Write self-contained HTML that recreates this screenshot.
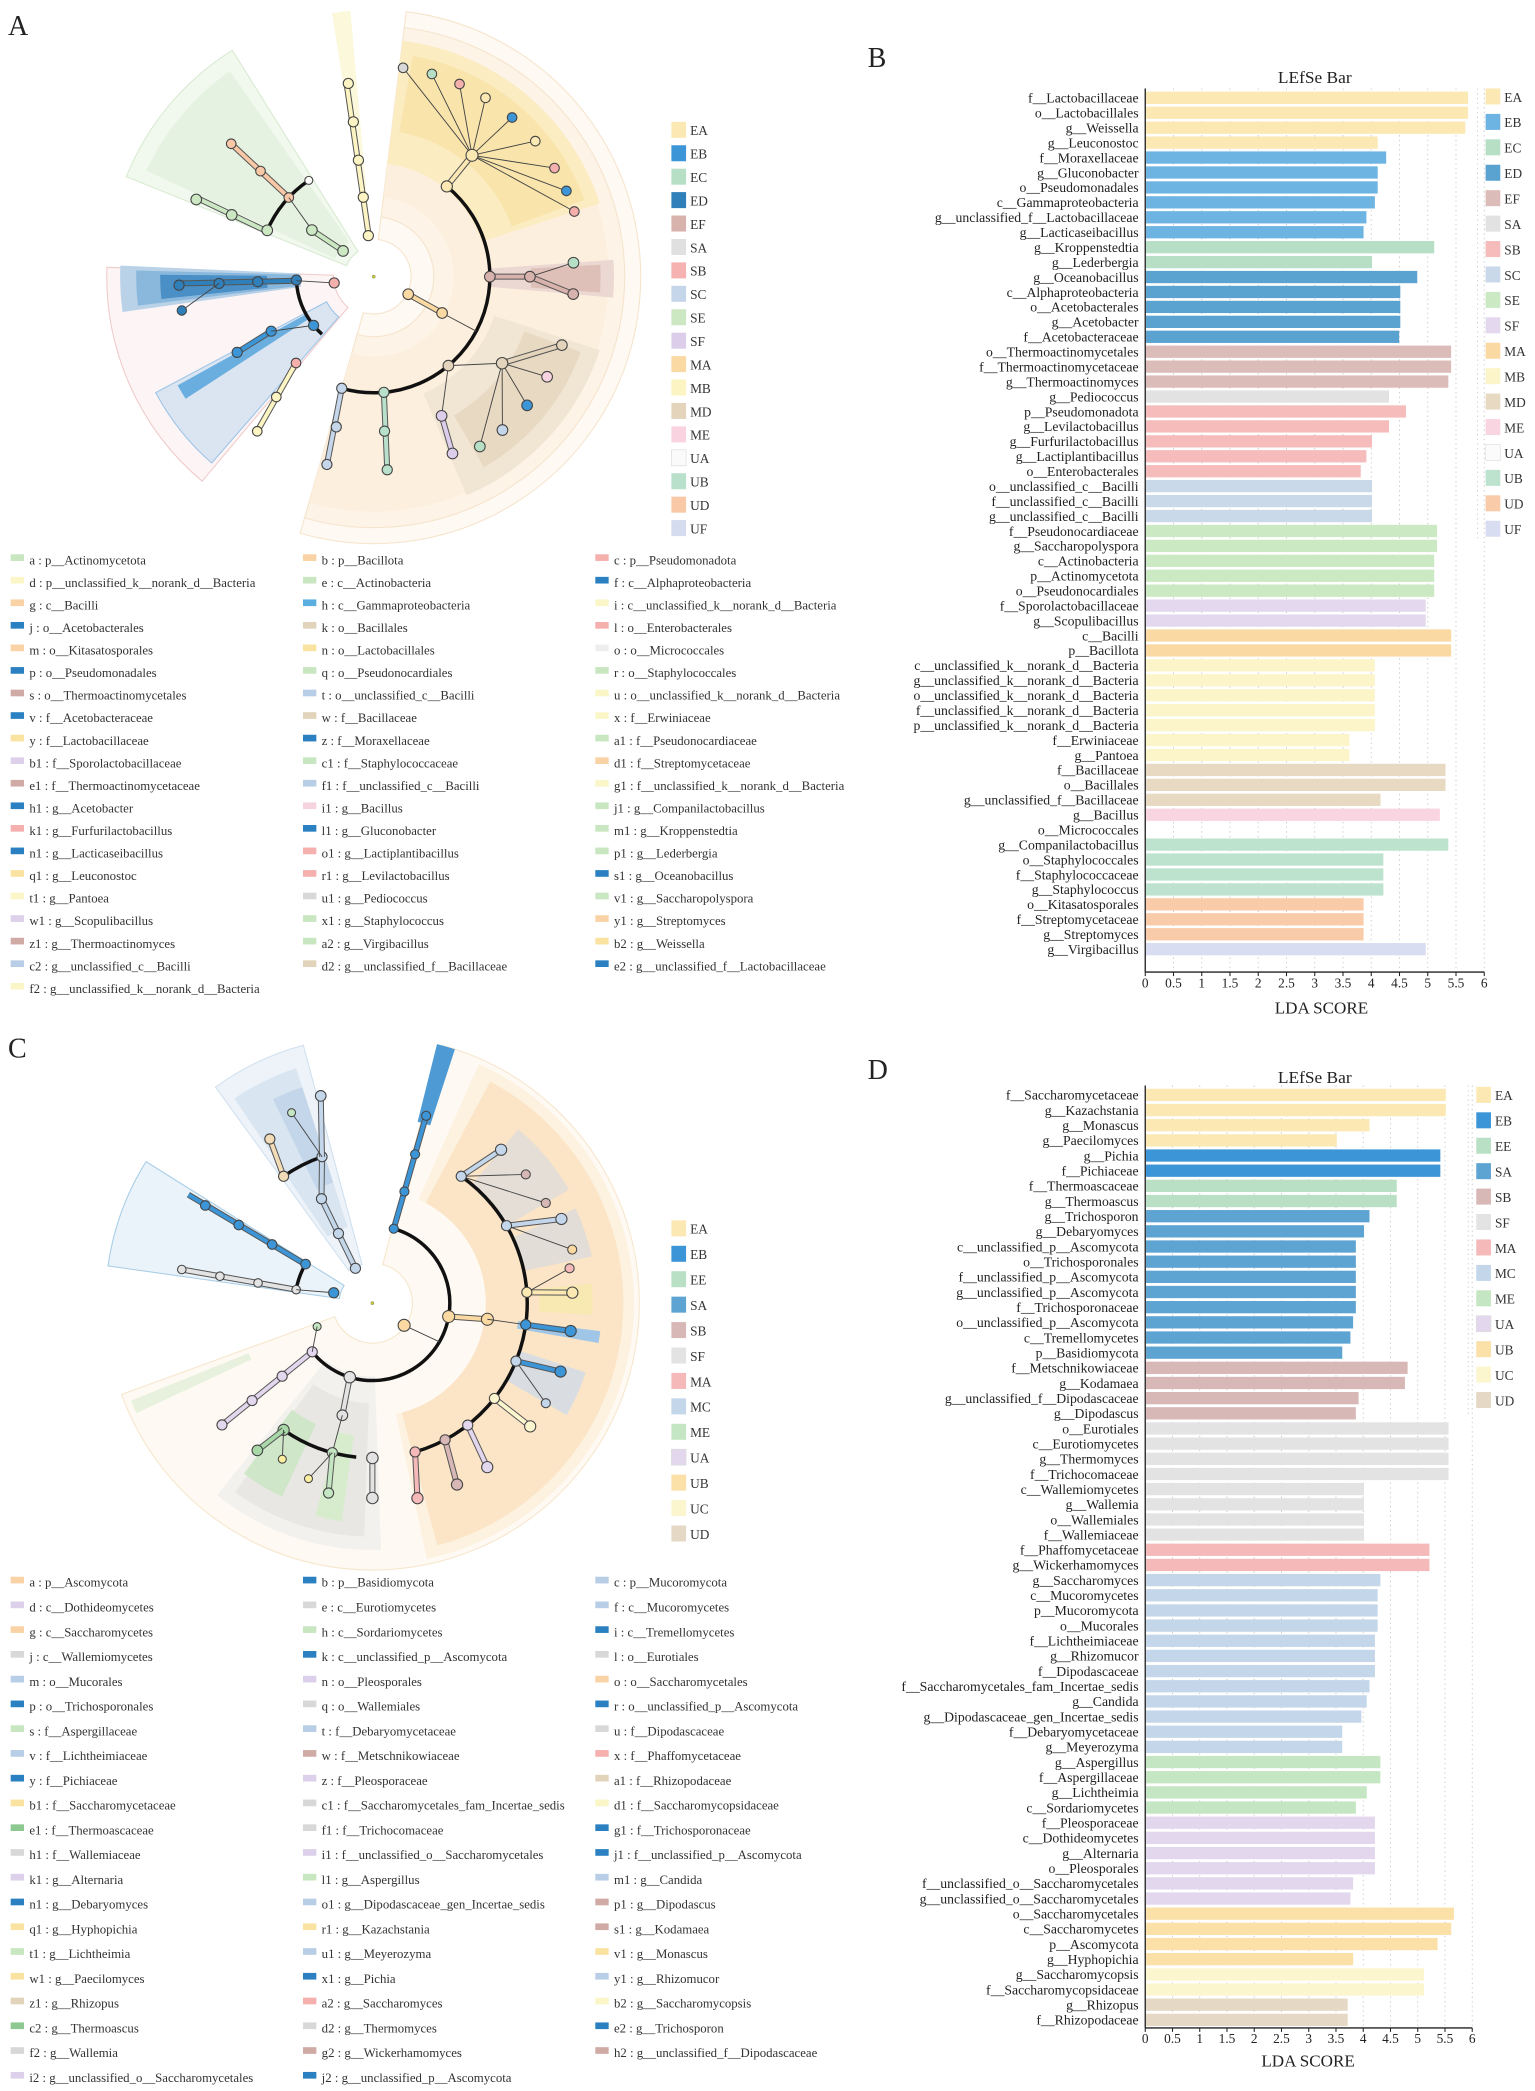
<!DOCTYPE html>
<html><head><meta charset="utf-8"><style>
html,body{margin:0;padding:0;background:#fff}
svg{display:block}
text{font-family:"Liberation Serif",serif}
</style></head><body>
<svg id="S" width="1535" height="2091" viewBox="0 0 1150 1566" xmlns="http://www.w3.org/2000/svg">
<rect width="1150" height="1566" fill="#fff"/>
<g id="cladA"></g><g id="cladC"></g>
<text x="6" y="26" font-size="21" fill="#222">A</text>
<text x="650" y="50" font-size="21" fill="#222">B</text>
<text x="6" y="792" font-size="21" fill="#222">C</text>
<text x="650" y="808" font-size="21" fill="#222">D</text>

<g id="cla" font-size="10" fill="#333"><text>EA</text><text>EB</text><text>EC</text><text>ED</text><text>EF</text><text>SA</text><text>SB</text><text>SC</text><text>SE</text><text>SF</text><text>MA</text><text>MB</text><text>MD</text><text>ME</text><text>UA</text><text>UB</text><text>UD</text><text>UF</text></g>
<g id="clc" font-size="10" fill="#333"><text>EA</text><text>EB</text><text>EE</text><text>SA</text><text>SB</text><text>SF</text><text>MA</text><text>MC</text><text>ME</text><text>UA</text><text>UB</text><text>UC</text><text>UD</text></g>

<g id="legA" font-size="9.6" fill="#333">
<text>a : p__Actinomycetota</text><text>b : p__Bacillota</text><text>c : p__Pseudomonadota</text>
<text>d : p__unclassified_k__norank_d__Bacteria</text><text>e : c__Actinobacteria</text><text>f : c__Alphaproteobacteria</text>
<text>g : c__Bacilli</text><text>h : c__Gammaproteobacteria</text><text>i : c__unclassified_k__norank_d__Bacteria</text>
<text>j : o__Acetobacterales</text><text>k : o__Bacillales</text><text>l : o__Enterobacterales</text>
<text>m : o__Kitasatosporales</text><text>n : o__Lactobacillales</text><text>o : o__Micrococcales</text>
<text>p : o__Pseudomonadales</text><text>q : o__Pseudonocardiales</text><text>r : o__Staphylococcales</text>
<text>s : o__Thermoactinomycetales</text><text>t : o__unclassified_c__Bacilli</text><text>u : o__unclassified_k__norank_d__Bacteria</text>
<text>v : f__Acetobacteraceae</text><text>w : f__Bacillaceae</text><text>x : f__Erwiniaceae</text>
<text>y : f__Lactobacillaceae</text><text>z : f__Moraxellaceae</text><text>a1 : f__Pseudonocardiaceae</text>
<text>b1 : f__Sporolactobacillaceae</text><text>c1 : f__Staphylococcaceae</text><text>d1 : f__Streptomycetaceae</text>
<text>e1 : f__Thermoactinomycetaceae</text><text>f1 : f__unclassified_c__Bacilli</text><text>g1 : f__unclassified_k__norank_d__Bacteria</text>
<text>h1 : g__Acetobacter</text><text>i1 : g__Bacillus</text><text>j1 : g__Companilactobacillus</text>
<text>k1 : g__Furfurilactobacillus</text><text>l1 : g__Gluconobacter</text><text>m1 : g__Kroppenstedtia</text>
<text>n1 : g__Lacticaseibacillus</text><text>o1 : g__Lactiplantibacillus</text><text>p1 : g__Lederbergia</text>
<text>q1 : g__Leuconostoc</text><text>r1 : g__Levilactobacillus</text><text>s1 : g__Oceanobacillus</text>
<text>t1 : g__Pantoea</text><text>u1 : g__Pediococcus</text><text>v1 : g__Saccharopolyspora</text>
<text>w1 : g__Scopulibacillus</text><text>x1 : g__Staphylococcus</text><text>y1 : g__Streptomyces</text>
<text>z1 : g__Thermoactinomyces</text><text>a2 : g__Virgibacillus</text><text>b2 : g__Weissella</text>
<text>c2 : g__unclassified_c__Bacilli</text><text>d2 : g__unclassified_f__Bacillaceae</text><text>e2 : g__unclassified_f__Lactobacillaceae</text>
<text>f2 : g__unclassified_k__norank_d__Bacteria</text>
</g>

<g id="legC" font-size="9.6" fill="#333">
<text>a : p__Ascomycota</text><text>b : p__Basidiomycota</text><text>c : p__Mucoromycota</text>
<text>d : c__Dothideomycetes</text><text>e : c__Eurotiomycetes</text><text>f : c__Mucoromycetes</text>
<text>g : c__Saccharomycetes</text><text>h : c__Sordariomycetes</text><text>i : c__Tremellomycetes</text>
<text>j : c__Wallemiomycetes</text><text>k : c__unclassified_p__Ascomycota</text><text>l : o__Eurotiales</text>
<text>m : o__Mucorales</text><text>n : o__Pleosporales</text><text>o : o__Saccharomycetales</text>
<text>p : o__Trichosporonales</text><text>q : o__Wallemiales</text><text>r : o__unclassified_p__Ascomycota</text>
<text>s : f__Aspergillaceae</text><text>t : f__Debaryomycetaceae</text><text>u : f__Dipodascaceae</text>
<text>v : f__Lichtheimiaceae</text><text>w : f__Metschnikowiaceae</text><text>x : f__Phaffomycetaceae</text>
<text>y : f__Pichiaceae</text><text>z : f__Pleosporaceae</text><text>a1 : f__Rhizopodaceae</text>
<text>b1 : f__Saccharomycetaceae</text><text>c1 : f__Saccharomycetales_fam_Incertae_sedis</text><text>d1 : f__Saccharomycopsidaceae</text>
<text>e1 : f__Thermoascaceae</text><text>f1 : f__Trichocomaceae</text><text>g1 : f__Trichosporonaceae</text>
<text>h1 : f__Wallemiaceae</text><text>i1 : f__unclassified_o__Saccharomycetales</text><text>j1 : f__unclassified_p__Ascomycota</text>
<text>k1 : g__Alternaria</text><text>l1 : g__Aspergillus</text><text>m1 : g__Candida</text>
<text>n1 : g__Debaryomyces</text><text>o1 : g__Dipodascaceae_gen_Incertae_sedis</text><text>p1 : g__Dipodascus</text>
<text>q1 : g__Hyphopichia</text><text>r1 : g__Kazachstania</text><text>s1 : g__Kodamaea</text>
<text>t1 : g__Lichtheimia</text><text>u1 : g__Meyerozyma</text><text>v1 : g__Monascus</text>
<text>w1 : g__Paecilomyces</text><text>x1 : g__Pichia</text><text>y1 : g__Rhizomucor</text>
<text>z1 : g__Rhizopus</text><text>a2 : g__Saccharomyces</text><text>b2 : g__Saccharomycopsis</text>
<text>c2 : g__Thermoascus</text><text>d2 : g__Thermomyces</text><text>e2 : g__Trichosporon</text>
<text>f2 : g__Wallemia</text><text>g2 : g__Wickerhamomyces</text><text>h2 : g__unclassified_f__Dipodascaceae</text>
<text>i2 : g__unclassified_o__Saccharomycetales</text><text>j2 : g__unclassified_p__Ascomycota</text>
</g>

<text x="985" y="62" font-size="13" text-anchor="middle" fill="#222">LEfSe Bar</text>
<g id="barsB"></g>
<g id="labB" font-size="10.3" fill="#222" text-anchor="end">
<text>f__Lactobacillaceae</text><text>o__Lactobacillales</text><text>g__Weissella</text><text>g__Leuconostoc</text>
<text>f__Moraxellaceae</text><text>g__Gluconobacter</text><text>o__Pseudomonadales</text><text>c__Gammaproteobacteria</text>
<text>g__unclassified_f__Lactobacillaceae</text><text>g__Lacticaseibacillus</text><text>g__Kroppenstedtia</text><text>g__Lederbergia</text>
<text>g__Oceanobacillus</text><text>c__Alphaproteobacteria</text><text>o__Acetobacterales</text><text>g__Acetobacter</text>
<text>f__Acetobacteraceae</text><text>o__Thermoactinomycetales</text><text>f__Thermoactinomycetaceae</text><text>g__Thermoactinomyces</text>
<text>g__Pediococcus</text><text>p__Pseudomonadota</text><text>g__Levilactobacillus</text><text>g__Furfurilactobacillus</text>
<text>g__Lactiplantibacillus</text><text>o__Enterobacterales</text><text>o__unclassified_c__Bacilli</text><text>f__unclassified_c__Bacilli</text>
<text>g__unclassified_c__Bacilli</text><text>f__Pseudonocardiaceae</text><text>g__Saccharopolyspora</text><text>c__Actinobacteria</text>
<text>p__Actinomycetota</text><text>o__Pseudonocardiales</text><text>f__Sporolactobacillaceae</text><text>g__Scopulibacillus</text>
<text>c__Bacilli</text><text>p__Bacillota</text><text>c__unclassified_k__norank_d__Bacteria</text><text>g__unclassified_k__norank_d__Bacteria</text>
<text>o__unclassified_k__norank_d__Bacteria</text><text>f__unclassified_k__norank_d__Bacteria</text><text>p__unclassified_k__norank_d__Bacteria</text><text>f__Erwiniaceae</text>
<text>g__Pantoea</text><text>f__Bacillaceae</text><text>o__Bacillales</text><text>g__unclassified_f__Bacillaceae</text>
<text>g__Bacillus</text><text>o__Micrococcales</text><text>g__Companilactobacillus</text><text>o__Staphylococcales</text>
<text>f__Staphylococcaceae</text><text>g__Staphylococcus</text><text>o__Kitasatosporales</text><text>f__Streptomycetaceae</text>
<text>g__Streptomyces</text><text>g__Virgibacillus</text>
</g>
<g id="tickB" font-size="10" fill="#222" text-anchor="middle"></g>
<text x="990" y="759" font-size="12.8" text-anchor="middle" fill="#222">LDA SCORE</text>
<g id="legB" font-size="10" fill="#333"><text>EA</text><text>EB</text><text>EC</text><text>ED</text><text>EF</text><text>SA</text><text>SB</text><text>SC</text><text>SE</text><text>SF</text><text>MA</text><text>MB</text><text>MD</text><text>ME</text><text>UA</text><text>UB</text><text>UD</text><text>UF</text></g>

<text x="985" y="811" font-size="13" text-anchor="middle" fill="#222">LEfSe Bar</text>
<g id="barsD"></g>
<g id="labD" font-size="10.3" fill="#222" text-anchor="end">
<text>f__Saccharomycetaceae</text><text>g__Kazachstania</text><text>g__Monascus</text><text>g__Paecilomyces</text>
<text>g__Pichia</text><text>f__Pichiaceae</text><text>f__Thermoascaceae</text><text>g__Thermoascus</text>
<text>g__Trichosporon</text><text>g__Debaryomyces</text><text>c__unclassified_p__Ascomycota</text><text>o__Trichosporonales</text>
<text>f__unclassified_p__Ascomycota</text><text>g__unclassified_p__Ascomycota</text><text>f__Trichosporonaceae</text><text>o__unclassified_p__Ascomycota</text>
<text>c__Tremellomycetes</text><text>p__Basidiomycota</text><text>f__Metschnikowiaceae</text><text>g__Kodamaea</text>
<text>g__unclassified_f__Dipodascaceae</text><text>g__Dipodascus</text><text>o__Eurotiales</text><text>c__Eurotiomycetes</text>
<text>g__Thermomyces</text><text>f__Trichocomaceae</text><text>c__Wallemiomycetes</text><text>g__Wallemia</text>
<text>o__Wallemiales</text><text>f__Wallemiaceae</text><text>f__Phaffomycetaceae</text><text>g__Wickerhamomyces</text>
<text>g__Saccharomyces</text><text>c__Mucoromycetes</text><text>p__Mucoromycota</text><text>o__Mucorales</text>
<text>f__Lichtheimiaceae</text><text>g__Rhizomucor</text><text>f__Dipodascaceae</text><text>f__Saccharomycetales_fam_Incertae_sedis</text>
<text>g__Candida</text><text>g__Dipodascaceae_gen_Incertae_sedis</text><text>f__Debaryomycetaceae</text><text>g__Meyerozyma</text>
<text>g__Aspergillus</text><text>f__Aspergillaceae</text><text>g__Lichtheimia</text><text>c__Sordariomycetes</text>
<text>f__Pleosporaceae</text><text>c__Dothideomycetes</text><text>g__Alternaria</text><text>o__Pleosporales</text>
<text>f__unclassified_o__Saccharomycetales</text><text>g__unclassified_o__Saccharomycetales</text><text>o__Saccharomycetales</text><text>c__Saccharomycetes</text>
<text>p__Ascomycota</text><text>g__Hyphopichia</text><text>g__Saccharomycopsis</text><text>f__Saccharomycopsidaceae</text>
<text>g__Rhizopus</text><text>f__Rhizopodaceae</text>
</g>
<g id="tickD" font-size="10" fill="#222" text-anchor="middle"></g>
<text x="980" y="1548" font-size="12.8" text-anchor="middle" fill="#222">LDA SCORE</text>
<g id="legD" font-size="10" fill="#333"><text>EA</text><text>EB</text><text>EE</text><text>SA</text><text>SB</text><text>SF</text><text>MA</text><text>MC</text><text>ME</text><text>UA</text><text>UB</text><text>UC</text><text>UD</text></g>
</svg>
<script>
(function(){
var NS="http://www.w3.org/2000/svg";
function el(p,t,a){var e=document.createElementNS(NS,t);for(var k in a)e.setAttribute(k,a[k]);p.appendChild(e);return e;}
function $(i){return document.getElementById(i);}
var C={EA:"#fbe8b2",EB:"#6db4e3",EC:"#b6dfc6",ED:"#5aa2d0",EE:"#b9e0c5",EF:"#dcbcb8",SA:"#e2e2e2",SB:"#f5bcbb",SC:"#c9d9ea",SE:"#cbe9c3",SF:"#e4d8ee",MA:"#fbd9a2",MB:"#fcf5c9",MC:"#c4d8ec",MD:"#e7d9c2",ME:"#f9d5e2",UA:"#fbfbfb",UB:"#bde3cf",UC:"#fdf7cf",UD:"#f9cba9",UF:"#d9ddf1"};
var CD={EA:"#fbe8b2",EB:"#3c95d6",EE:"#b9e0c5",SA:"#5ea4d3",SB:"#d8b8b6",SF:"#e3e3e3",MA:"#f4b9b8",MC:"#c4d6ea",ME:"#c5e6c2",UA:"#e3d7ee",UB:"#fbe0a8",UC:"#fcf6cf",UD:"#e5d8c4"};
function bars(gid,lid,tid,y0,dy,x0,u,vals,cols,pal,ytop,ybot){
 var g=$(gid);
 for(var v=0.5;v<=6.01;v+=0.5){el(g,"line",{x1:x0+v*u,x2:x0+v*u,y1:ytop,y2:ybot,stroke:"#c8c8c8","stroke-width":0.7,"stroke-dasharray":"1,2.5"});}
 var L=$(lid).children;
 for(var i=0;i<vals.length;i++){var y=y0+i*dy;
  if(vals[i]>0)el(g,"rect",{x:x0+0.6,y:y-4.6,width:vals[i]*u,height:9.2,fill:pal[cols[i]]});
  L[i].setAttribute("x",x0-5);L[i].setAttribute("y",y+3.6);}
 el(g,"line",{x1:x0,x2:x0,y1:ytop,y2:ybot,stroke:"#222","stroke-width":1});
 el(g,"line",{x1:x0,x2:x0+6*u,y1:ybot,y2:ybot,stroke:"#222","stroke-width":1});
 var t=$(tid);
 for(var k=0;k<=12;k++){var x=x0+k*0.5*u;el(g,"line",{x1:x,x2:x,y1:ybot,y2:ybot+3,stroke:"#222","stroke-width":0.8});
  var tx=el(t,"text",{x:x,y:ybot+11.5});tx.textContent=(k%2?(k/2).toFixed(1):(k/2));}
}
function legend(gid,x,y0,dy,pal){var L=$(gid).children;var g=$(gid);
 for(var i=0;i<L.length;i++){var y=y0+i*dy;var n=L[i].textContent;
  el(g.parentNode,"rect",{x:x,y:y-6,width:11,height:12,fill:pal[n],stroke:n=="UA"?"#ddd":"none","stroke-width":0.5});
  L[i].setAttribute("x",x+14);L[i].setAttribute("y",y+4);}
}
var vb=[5.7,5.7,5.65,4.1,4.25,4.1,4.1,4.05,3.9,3.85,5.1,4.0,4.8,4.5,4.5,4.5,4.48,5.4,5.4,5.35,4.3,4.6,4.3,4.0,3.9,3.8,4.0,4.0,4.0,5.15,5.15,5.1,5.1,5.1,4.95,4.95,5.4,5.4,4.05,4.05,4.05,4.05,4.05,3.6,3.6,5.3,5.3,4.15,5.2,0,5.35,4.2,4.2,4.2,3.85,3.85,3.85,4.95];
var cb="EA EA EA EA EB EB EB EB EB EB EC EC ED ED ED ED ED EF EF EF SA SB SB SB SB SB SC SC SC SE SE SE SE SE SF SF MA MA MB MB MB MB MB MB MB MD MD MD ME UA UB UB UB UB UD UD UD UF".split(" ");
bars("barsB","labB","tickB",73,11.19,858,42.33,vb,cb,C,66,728);
el($("barsB"),"line",{x1:1107,x2:1107,y1:66,y2:405,stroke:"#ccc","stroke-width":0.7,"stroke-dasharray":"1,2.5"});
legend("legB",1113,72,19.05,C);
var vd=[5.5,5.5,4.1,3.5,5.4,5.4,4.6,4.6,4.1,4.0,3.85,3.85,3.85,3.85,3.85,3.8,3.75,3.6,4.8,4.75,3.9,3.85,5.55,5.55,5.55,5.55,4.0,4.0,4.0,4.0,5.2,5.2,4.3,4.25,4.25,4.25,4.2,4.2,4.2,4.1,4.05,3.95,3.6,3.6,4.3,4.3,4.05,3.85,4.2,4.2,4.2,4.2,3.8,3.75,5.65,5.6,5.35,3.8,5.1,5.1,3.7,3.7];
var cd="EA EA EA EA EB EB EE EE SA SA SA SA SA SA SA SA SA SA SB SB SB SB SF SF SF SF SF SF SF SF MA MA MC MC MC MC MC MC MC MC MC MC MC MC ME ME ME ME UA UA UA UA UA UA UB UB UB UB UC UC UD UD".split(" ");
bars("barsD","labD","tickD",820,11.36,858,40.83,vd,cd,CD,813,1519);
el($("barsD"),"line",{x1:1100,x2:1100,y1:813,y2:1060,stroke:"#ccc","stroke-width":0.7,"stroke-dasharray":"1,2.5"});
legend("legD",1106,820,19.05,CD);
var CA={EA:"#fbe8b2",EB:"#3c95d6",EC:"#b6dfc6",ED:"#2f7fba",EF:"#d8b2ac",SA:"#e0e0e0",SB:"#f5b2b0",SC:"#c6d6ea",SE:"#cbe8c3",SF:"#dccdeb",MA:"#fbd9a2",MB:"#fcf4c2",MD:"#e4d4bb",ME:"#f9d3e0",UA:"#fafafa",UB:"#b9e0cb",UD:"#f9c8a6",UF:"#d6dcef"};
legend("cla",503,97,17.55,CA);
legend("clc",503,920,19.05,CD);
function tleg(gid,y0,dy,cols){var L=$(gid).children;var g=$(gid);var xs=[8,227,446];
 for(var i=0;i<L.length;i++){var c=i%3,r=Math.floor(i/3);var y=y0+r*dy;
  el(g.parentNode,"rect",{x:xs[c],y:y-4,width:10,height:5,fill:cols[i]});
  L[i].setAttribute("x",xs[c]+14);L[i].setAttribute("y",y+3.5);}
}
var G="#c8e6c0",P="#f9d3a6",K="#f5b0ae",Y="#fbf6c8",B="#2a80c0",LB="#5aaee0",T="#e2d3bb",YY="#fae3a0",GR="#eeeeee",BR="#d0aaa4",LBB="#b8cde6",LV="#ddd0ea",PK="#f7d3df",GY="#d8d8d8";
var ca=[G,P,K,Y,G,B,P,LB,Y,B,T,K,P,YY,GR,B,G,G,BR,LBB,Y,B,T,Y,YY,B,G,LV,G,P,BR,LBB,Y,B,PK,G,K,B,G,B,K,G,YY,K,B,Y,GY,G,LV,G,P,BR,G,YY,LBB,T,B,Y];
tleg("legA",419,16.9,ca);
var cc=[P,B,LBB,LV,GY,LBB,P,G,B,GY,B,GY,LBB,LV,P,B,GY,B,G,LBB,GY,LBB,BR,K,B,LV,T,YY,GY,Y,"#8cc890",GY,B,GY,LV,B,LV,G,LBB,B,LBB,BR,YY,YY,BR,G,LBB,YY,YY,B,LBB,T,K,Y,"#8cc890",GY,B,GY,BR,BR,LV,B];
tleg("legC",1185,18.55,cc);
function pt(cx,cy,r,a){a=a*Math.PI/180;return [cx+r*Math.cos(a),cy+r*Math.sin(a)];}
function wedge(g,cx,cy,r0,r1,a0,a1,fill,stroke){var p0=pt(cx,cy,r1,a0),p1=pt(cx,cy,r1,a1),p2=pt(cx,cy,r0,a1),p3=pt(cx,cy,r0,a0);var lg=(a1-a0)>180?1:0;
 el(g,"path",{d:"M"+p0+"A"+r1+","+r1+" 0 "+lg+" 1 "+p1+"L"+p2+"A"+r0+","+r0+" 0 "+lg+" 0 "+p3+"Z",fill:fill,stroke:stroke||"none","stroke-width":0.8});}
function arc(g,cx,cy,r,a0,a1,w){var p0=pt(cx,cy,r,a0),p1=pt(cx,cy,r,a1);el(g,"path",{d:"M"+p0+"A"+r+","+r+" 0 "+((a1-a0)>180?1:0)+" 1 "+p1,fill:"none",stroke:"#111","stroke-width":w||2.6});}
function br(g,cx,cy,pts,col,thick){
 var d="";for(var i=0;i<pts.length;i++){var p=pt(cx,cy,pts[i][0],pts[i][1]);d+=(i?"L":"M")+p;}
 if(thick){el(g,"path",{d:d,fill:"none",stroke:"#555","stroke-width":4.5});el(g,"path",{d:d,fill:"none",stroke:col,"stroke-width":3});}
 else el(g,"path",{d:d,fill:"none",stroke:"#444","stroke-width":0.7});}
function nd(g,cx,cy,r,a,col,s){var p=pt(cx,cy,r,a);el(g,"circle",{cx:p[0],cy:p[1],r:s||3.6,fill:col,stroke:"#444","stroke-width":0.8});}
var g=$("cladA"),X=280,Yc=207;
wedge(g,X,Yc,28,200,-83,106,"#fef9f2","#f6e4cc");
wedge(g,X,Yc,45,188,-83,106,"#fdf3e6","#f6e4cc");
wedge(g,X,Yc,60,176,-83,106,"#fdefdd");
wedge(g,X,Yc,85,178,-83,-18,"#fbecc2");
wedge(g,X,Yc,110,168,-80,-20,"#f9e5ac");
wedge(g,X,Yc,88,180,-4,5,"#ecd8d2");
wedge(g,X,Yc,118,170,-3,4,"#dfc0b8");
wedge(g,X,Yc,95,178,18,67,"#f1e6d4");
wedge(g,X,Yc,120,165,20,60,"#e8d9c2");
wedge(g,X,Yc,22,200,-158,-122,"#f1f8ee","#d8ead2");
wedge(g,X,Yc,32,188,-155,-125,"#e6f2e1");
wedge(g,X,Yc,30,200,130,182,"#fdf5f5","#f0caca");
wedge(g,X,Yc,55,190,172,182.5,"#b9d2e8");
wedge(g,X,Yc,58,178,173,181.5,"#8ab8dd");
wedge(g,X,Yc,80,160,174,180.5,"#4a8fc6");
wedge(g,X,Yc,40,185,131,152,"#dbe5f1","#9cc4e8");
wedge(g,X,Yc,58,168,147,151,"#6aaee0");
wedge(g,X,Yc,30,200,-99,-95,"#fbf8dc");
arc(g,X,Yc,87,-51,106);
arc(g,X,Yc,87,-157,-124);
arc(g,X,Yc,58,141,177);arc(g,X,Yc,58,132,141);
var fan=[[-82,"#d8d8d8"],[-74,"#b6dfc6"],[-66,"#f5b0ae"],[-58,"#fbe8b2"],[-49,"#3c95d6"],[-40,"#fbe8b2"],[-31,"#f5b0ae"],[-24,"#3c95d6"],[-18,"#f5b0ae"]];
br(g,X,Yc,[[87,-51],[117,-51]],"#fbe8b2",true);
fan.forEach(function(f){br(g,X,Yc,[[117,-51],[158,f[0]]]);nd(g,X,Yc,158,f[0],f[1]);});
nd(g,X,Yc,87,-51,"#fbe8b2",4.2);nd(g,X,Yc,117,-51,"#fbe8b2",4.5);
br(g,X,Yc,[[87,0],[117,0]],"#d8b2ac",true);br(g,X,Yc,[[117,0],[150,-4]]);br(g,X,Yc,[[117,0],[150,5]],"#d8b2ac",true);
nd(g,X,Yc,87,0,"#d8b2ac",4);nd(g,X,Yc,117,0,"#d8b2ac",4);nd(g,X,Yc,150,-4,"#b6dfc6",4);nd(g,X,Yc,150,5,"#d8b2ac",4);
br(g,X,Yc,[[87,50],[116,34]]);br(g,X,Yc,[[87,50],[116,64]]);
[[20,"#e4d4bb"],[30,"#f9d3e0"],[40,"#3c95d6"],[50,"#c6d6ea"],[58,"#b6dfc6"]].forEach(function(f){br(g,X,Yc,[[116,34],[150,f[0]]],"#e4d4bb",f[0]==20);nd(g,X,Yc,150,f[0],f[1],4);});
br(g,X,Yc,[[116,64],[145,66]],"#dccdeb",true);nd(g,X,Yc,116,64,"#dccdeb",4);nd(g,X,Yc,145,66,"#dccdeb",4);
nd(g,X,Yc,87,50,"#e4d4bb",4);nd(g,X,Yc,116,34,"#e4d4bb",4.3);
br(g,X,Yc,[[87,85],[145,86]],"#b9e0cb",true);[87,116,145].forEach(function(r){nd(g,X,Yc,r,r==87?85:86,"#b9e0cb",3.8);});
br(g,X,Yc,[[87,106],[145,104]],"#c6d6ea",true);[87,116,145].forEach(function(r){nd(g,X,Yc,r,r==87?106:104,"#c6d6ea",3.8);});
br(g,X,Yc,[[29,27],[58,28]],"#fbd9a2",true);br(g,X,Yc,[[58,28],[87,28]]);nd(g,X,Yc,29,27,"#fbd9a2",4);nd(g,X,Yc,58,28,"#fbd9a2",4);
br(g,X,Yc,[[87,-157],[145,-156]],"#cbe8c3",true);[87,116,145].forEach(function(r){nd(g,X,Yc,r,-156.5,"#cbe8c3",4);});
br(g,X,Yc,[[87,-137],[146,-137]],"#f9c8a6",true);[116,146].forEach(function(r){nd(g,X,Yc,r,-137,"#f9c8a6",3.6);});nd(g,X,Yc,87,-137,"#f9c8a6",3.6);
nd(g,X,Yc,87,-124,"#fff",3);
br(g,X,Yc,[[30,-140],[58,-143]],"#cbe8c3",true);br(g,X,Yc,[[58,-143],[87,-137]]);nd(g,X,Yc,30,-140,"#cbe8c3",4);nd(g,X,Yc,58,-143,"#cbe8c3",4);
br(g,X,Yc,[[31,-97],[146,-98]],"#fcf4c2",true);[31,60,88,117,146].forEach(function(r){nd(g,X,Yc,r,-97.5,"#fcf4c2",3.8);});
br(g,X,Yc,[[58,177],[146,178]],"#2f7fba",true);[58,87,116,146].forEach(function(r){nd(g,X,Yc,r,177.5,"#2f7fba",3.8);});
br(g,X,Yc,[[116,177.5],[146,170]]);nd(g,X,Yc,146,170,"#2f7fba",3.5);
br(g,X,Yc,[[87,152],[117,151]],"#3c95d6",true);nd(g,X,Yc,87,152,"#3c95d6",3.8);nd(g,X,Yc,117,151,"#3c95d6",3.8);
br(g,X,Yc,[[58,141],[87,152]]);nd(g,X,Yc,58,141,"#3c95d6",3.8);
br(g,X,Yc,[[87,132],[145,127]],"#fcf4c2",true);nd(g,X,Yc,87,132,"#f5b0ae",3.6);nd(g,X,Yc,116,129,"#fcf4c2",3.6);nd(g,X,Yc,145,127,"#fcf4c2",3.6);
br(g,X,Yc,[[58,177],[30,171]]);nd(g,X,Yc,30,171,"#f5b0ae",3.8);
el(g,"circle",{cx:X,cy:Yc,r:1.2,fill:"#cc3",stroke:"#666","stroke-width":0.3});
g=$("cladC");X=279;Yc=976;
wedge(g,X,Yc,30,200,-75,160,"#fefaf3","#f6e6cc");
wedge(g,X,Yc,85,196,-66,78,"#fdf1e0");
wedge(g,X,Yc,85,188,-62,75,"#fbe5c6");
wedge(g,X,Yc,115,170,-50,-30,"#e4ded6");
wedge(g,X,Yc,115,168,-25,-12,"#e2ddd6");
wedge(g,X,Yc,125,165,-5,3,"#f8e8b2");
wedge(g,X,Yc,110,172,7,10,"#9fc6e6");
wedge(g,X,Yc,115,168,18,30,"#d9dde2");
wedge(g,X,Yc,55,185,88,129,"#f3f1ee");
wedge(g,X,Yc,75,175,92,126,"#e9e7e4");
wedge(g,X,Yc,100,160,115,127,"#cfe6c8");
wedge(g,X,Yc,100,165,98,105,"#d6eccc");
wedge(g,X,Yc,100,195,155,158,"#e8f1de");
wedge(g,X,Yc,25,200,188,212,"#eaf3f9","#a8cde6");
wedge(g,X,Yc,30,200,-126,-105,"#edf3f9","#cfe0ef");
wedge(g,X,Yc,60,185,-124,-108,"#d9e5f1");
wedge(g,X,Yc,95,170,-116,-108,"#c4d7ea");
wedge(g,X,Yc,140,200,-76,-72,"#4d9ad4");
arc(g,X,Yc,58,-74,141);
arc(g,X,Yc,116,-55,74);
arc(g,X,Yc,116,96,125);
arc(g,X,Yc,58,190,210);
arc(g,X,Yc,116,-125,-109);
br(g,X,Yc,[[58,-74],[146,-74]],"#3c95d6",true);[58,87,116,146].forEach(function(r){nd(g,X,Yc,r,-74,"#3c95d6",3.4);});
br(g,X,Yc,[[58,10],[87,8]],"#fbd9a2",true);nd(g,X,Yc,58,10,"#fbd9a2",4.5);nd(g,X,Yc,87,8,"#fbd9a2",4.5);br(g,X,Yc,[[87,8],[116,8]]);
br(g,X,Yc,[[29,35],[58,30]]);nd(g,X,Yc,29,35,"#fbd9a2",4.5);
[[-55,-52,"#c4d6ea",[[150,-50,"#c4d6ea"],[150,-40,"#d8b8b6"],[150,-30,"#d8b8b6"]]],[-30,-28,"#c4d6ea",[[155,-24,"#c4d6ea"],[155,-15,"#fbd9a2"]]],[-4,-4,"#fbe8b2",[[150,-3,"#fbe8b2"],[150,-10,"#f4b9b8"]]],[8,8,"#3c95d6",[[150,8,"#3c95d6"]]],[22,22,"#c4d6ea",[[150,20,"#3c95d6"],[150,30,"#c4d6ea"]]],[38,38,"#fcf6cf",[[150,38,"#fcf6cf"]]],[52,52,"#e3d7ee",[[150,55,"#e3d7ee"]]],[62,62,"#d8b8b6",[[150,65,"#d8b8b6"]]],[74,74,"#f4b9b8",[[150,77,"#f4b9b8"]]]].forEach(function(f){
 f[3].forEach(function(c,i){br(g,X,Yc,[[116,f[0]],[c[0],c[1]]],c[2],i==0);nd(g,X,Yc,c[0],c[1],c[2],i==0?4.2:3.4);});nd(g,X,Yc,116,f[0],f[2],3.8);});
br(g,X,Yc,[[58,141],[145,141]],"#e3d7ee",true);[58,87,116,145].forEach(function(r){nd(g,X,Yc,r,141,"#e3d7ee",3.8);});nd(g,X,Yc,45,157,"#c5e6c2",3);br(g,X,Yc,[[58,141],[45,157]]);
br(g,X,Yc,[[58,107],[87,105]],"#e3e3e3",true);nd(g,X,Yc,58,107,"#e3e3e3",4.3);nd(g,X,Yc,87,105,"#e3e3e3",4);br(g,X,Yc,[[87,105],[116,105]]);
br(g,X,Yc,[[116,90],[146,90]],"#e3e3e3",true);nd(g,X,Yc,116,90,"#e3e3e3",4.3);nd(g,X,Yc,146,90,"#e3e3e3",4.3);
nd(g,X,Yc,116,105,"#c5e6c2",3.8);br(g,X,Yc,[[116,105],[146,103]],"#c5e6c2",true);nd(g,X,Yc,146,103,"#c5e6c2",3.8);br(g,X,Yc,[[116,105],[140,110]]);nd(g,X,Yc,140,110,"#fcf0a0",3);
nd(g,X,Yc,116,125,"#a8d8a8",4.2);br(g,X,Yc,[[116,125],[140,128]],"#a8d8a8",true);nd(g,X,Yc,140,128,"#a8d8a8",4);br(g,X,Yc,[[116,125],[135,120]]);nd(g,X,Yc,135,120,"#fcf0a0",3);
br(g,X,Yc,[[58,210],[160,210.5]],"#3c95d6",true);[58,87,116,145].forEach(function(r){nd(g,X,Yc,r,210.3,"#3c95d6",3.6);});
br(g,X,Yc,[[58,190],[145,190]],"#e3e3e3",true);[58,87,116,145].forEach(function(r){nd(g,X,Yc,r,190,"#e3e3e3",3.2);});
br(g,X,Yc,[[58,190],[30,195]]);nd(g,X,Yc,30,195,"#3c95d6",3.8);
br(g,X,Yc,[[29,-116],[87,-116],[116,-109]],"#c4d6ea",true);[29,58,87].forEach(function(r){nd(g,X,Yc,r,-116,"#c4d6ea",3.8);});nd(g,X,Yc,116,-109,"#c4d6ea",3.8);
br(g,X,Yc,[[116,-109],[160,-104]],"#c4d6ea",true);nd(g,X,Yc,160,-104,"#c4d6ea",4);br(g,X,Yc,[[116,-109],[155,-113]]);nd(g,X,Yc,155,-113,"#c5e6c2",3);
br(g,X,Yc,[[116,-125],[145,-122]],"#f2dcb8",true);nd(g,X,Yc,116,-125,"#f2dcb8",3.8);nd(g,X,Yc,145,-122,"#f2dcb8",3.8);
el(g,"circle",{cx:X,cy:Yc,r:1.2,fill:"#cc3",stroke:"#666","stroke-width":0.3});
})();
</script>
</body></html>
